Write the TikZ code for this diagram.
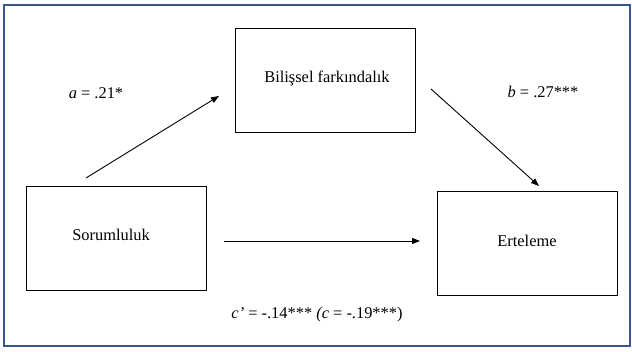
\documentclass[tikz,border=0pt]{standalone}
\usepackage{fontspec}
\setmainfont{Liberation Serif}
\usetikzlibrary{arrows.meta}
\definecolor{frameblue}{RGB}{58,86,140}
\begin{document}
\begin{tikzpicture}[x=1pt,y=-1pt,
  box/.style={draw=black,line width=1pt,minimum width=180pt,minimum height=104pt,inner sep=0pt},
  lbl/.style={font=\fontsize{16.4}{19}\selectfont,inner sep=0pt},
  conn/.style={draw=black,line width=0.9pt,-{Triangle[length=8pt,width=6pt]}}]
\useasboundingbox (0,0) rectangle (632,352);
\fill[white] (0,0) rectangle (632,352);
\draw[frameblue,line width=2pt] (4,5) rectangle (629.5,346);
\node[box] (S) at (116,239) {};
\node[box] (B) at (325,81) {};
\node[box] (E) at (527.5,244) {};
\node[lbl] (St) at (111,235) {Sorumluluk};
\node[lbl] (Bt) at (327,78) {Bilişsel farkındalık};
\node[lbl] (Et) at (527,241) {Erteleme};
\node[lbl] (la) at (96,93) {\textit{a} = .21*};
\node[lbl] (lb) at (543,92) {\textit{b} = .27***};
\node[lbl] (lc) at (317,315) {\textit{c'} = -.14*** \textit{(c} = -.19***)};
\coordinate (a1) at (86,178);
\coordinate (a2) at (219,96);
\coordinate (b1) at (431,89);
\coordinate (b2) at (539,186);
\coordinate (c1) at (224,241);
\coordinate (c2) at (420,241);
\draw[conn] (a1) -- (a2);
\draw[conn] (b1) -- (b2);
\draw[conn] (c1) -- (c2);
\end{tikzpicture}
\end{document}
